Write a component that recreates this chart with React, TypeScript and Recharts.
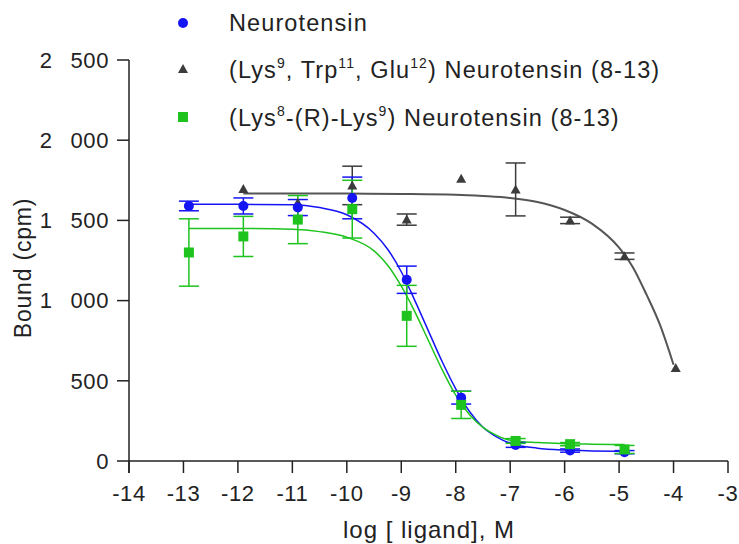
import React from 'react';
import {
  ComposedChart,
  Line,
  Scatter,
  ErrorBar,
  XAxis,
  YAxis,
  ReferenceLine,
} from 'recharts';

// measured points (log M)
const xNt = [-12.9, -11.9, -10.9, -9.9, -8.9, -7.9, -6.9, -5.9, -4.9];
const ntBound = [1590, 1590, 1580, 1640, 1130, 395, 100, 65, 55];
const ntErr = [30, 50, 50, 130, 85, 40, 15, 10, 10];
const lysBound = [1300, 1400, 1505, 1570, 905, 350, 125, 105, 72];
const lysErr = [210, 125, 150, 180, 190, 85, 15, 10, 25];

const xTrp = [-11.9, -10.9, -9.9, -8.9, -7.9, -6.9, -5.9, -4.9, -3.96];
const trpBound = [1695, 1610, 1718, 1505, 1760, 1693, 1500, 1277, 580];
const trpErr = [0, 0, 120, 35, 0, 165, 20, 20, 0];

// fitted curves
const fitX = [-12.9, -12, -11, -10.5, -10, -9.5, -9.25, -9, -8.75, -8.5, -8.25, -8, -7.75, -7.5, -7.25, -7, -6.5, -6, -5.5, -4.9];
const ntFit = [1600, 1600, 1598, 1580, 1535, 1420, 1320, 1180, 1000, 810, 620, 450, 310, 210, 150, 110, 80, 68, 63, 60];
const lysFit = [1450, 1450, 1445, 1430, 1395, 1310, 1220, 1090, 930, 750, 570, 410, 290, 210, 160, 130, 115, 108, 105, 103];
const trpFitX = [-11.9, -10, -9, -8, -7.5, -7, -6.5, -6, -5.5, -5, -4.75, -4.5, -4.25, -4];
const trpFit = [1668, 1667, 1665, 1660, 1652, 1640, 1615, 1565, 1480, 1330, 1210, 1040, 850, 600];

const xTicks = [-14, -13, -12, -11, -10, -9, -8, -7, -6, -5, -4, -3];
const yTicks = [0, 500, 1000, 1500, 2000, 2500];

const BLUE = '#1414f5';
const GREEN = '#1ec31e';
const DARK = '#3c3c3c';
const INK = '#222';
const FONT = '"Liberation Sans", Arial, sans-serif';

const zip = (xs: number[], ys: number[], es?: number[]) =>
  xs.map((x, i) => ({ x, y: ys[i], err: es ? es[i] : 0 }));

const ntPts = zip(xNt, ntBound, ntErr);
const lysPts = zip(xNt, lysBound, lysErr);
const trpPts = zip(xTrp, trpBound, trpErr);
const ntLine = zip(fitX, ntFit);
const lysLine = zip(fitX, lysFit);
const trpLine = zip(trpFitX, trpFit);

const Dot = (p: any) => <circle cx={p.cx} cy={p.cy} r={5} fill={BLUE} />;
const Sq = (p: any) => <rect x={p.cx - 5} y={p.cy - 5} width={10} height={10} fill={GREEN} />;
const Tri = (p: any) => (
  <path d={`M${p.cx},${p.cy - 5}L${p.cx + 5},${p.cy + 4}L${p.cx - 5},${p.cy + 4}Z`} fill={DARK} />
);

// thousands separated by a wide gap, as in the original
const fmt = (v: number) =>
  v >= 1000 ? `${Math.floor(v / 1000)}\u2007\u2009${String(v % 1000).padStart(3, '0')}` : String(v);

const tickStyle = { fill: INK, fontSize: 22, fontFamily: FONT, letterSpacing: 0.6 };

function Overlay() {
  const sup = (t: string) => (
    <tspan dy={-10} fontSize={14}>{t}</tspan>
  );
  const back = (t: string) => <tspan dy={10}>{t}</tspan>;
  return (
    <svg width={739} height={544} style={{ position: 'absolute', left: 0, top: 0, pointerEvents: 'none' }}>
      <g fontFamily={FONT} fontSize={23.5} fill={INK} letterSpacing={1.1}>
        <circle cx={183} cy={23} r={5} fill={BLUE} />
        <text x={229} y={31}>Neurotensin</text>
        <path d="M183,64L188,73L178,73Z" fill={DARK} />
        <text x={229} y={78}>
          (Lys{sup('9')}{back(', Trp')}{sup('11')}{back(', Glu')}{sup('12')}{back(') Neurotensin (8-13)')}
        </text>
        <rect x={178} y={112} width={10} height={10} fill={GREEN} />
        <text x={229} y={126}>
          (Lys{sup('8')}{back('-(R)-Lys')}{sup('9')}{back(') Neurotensin (8-13)')}
        </text>
      </g>
      <text
        transform="translate(31,268) rotate(-90)"
        textAnchor="middle"
        fontFamily={FONT}
        fontSize={23}
        letterSpacing={0.8}
        fill={INK}
      >
        Bound (cpm)
      </text>
      <text x={429} y={538} textAnchor="middle" fontFamily={FONT} fontSize={24} letterSpacing={1} fill={INK}>
        log [ ligand], M
      </text>
    </svg>
  );
}

export default function App() {
  return (
    <div style={{ position: 'absolute', left: 0, top: 0, width: 739, height: 544, background: '#fff' }}>
      <ComposedChart
        width={739}
        height={544}
        margin={{ top: 60, right: 11, bottom: 0, left: 0 }}
      >
        <XAxis
          type="number"
          dataKey="x"
          domain={[-14, -3]}
          ticks={xTicks}
          allowDataOverflow
          height={83}
          tickSize={12}
          tickMargin={12}
          stroke={INK}
          strokeWidth={1.5}
          tick={tickStyle}
        />
        <YAxis
          type="number"
          dataKey="y"
          domain={[0, 2500]}
          ticks={yTicks}
          width={129}
          tickSize={12}
          tickMargin={8}
          tickFormatter={fmt}
          stroke={INK}
          strokeWidth={1.5}
          tick={tickStyle}
        />
        <ReferenceLine
          segment={[{ x: -14, y: 0 }, { x: -14, y: -75 }]}
          ifOverflow="visible"
          stroke={INK}
          strokeWidth={1.5}
        />
        <Line data={trpLine} dataKey="y" type="monotone" stroke="#555" strokeWidth={2} dot={false} isAnimationActive={false} />
        <Line data={ntLine} dataKey="y" type="monotone" stroke={BLUE} strokeWidth={1.5} dot={false} isAnimationActive={false} />
        <Line data={lysLine} dataKey="y" type="monotone" stroke={GREEN} strokeWidth={1.5} dot={false} isAnimationActive={false} />
        <Scatter data={trpPts} dataKey="y" shape={Tri} isAnimationActive={false}>
          <ErrorBar dataKey="err" direction="y" width={10} stroke={DARK} strokeWidth={1.5} />
        </Scatter>
        <Scatter data={ntPts} dataKey="y" shape={Dot} isAnimationActive={false}>
          <ErrorBar dataKey="err" direction="y" width={10} stroke={BLUE} strokeWidth={1.5} />
        </Scatter>
        <Scatter data={lysPts} dataKey="y" shape={Sq} isAnimationActive={false}>
          <ErrorBar dataKey="err" direction="y" width={10} stroke={GREEN} strokeWidth={1.5} />
        </Scatter>
      </ComposedChart>
      <Overlay />
    </div>
  );
}
